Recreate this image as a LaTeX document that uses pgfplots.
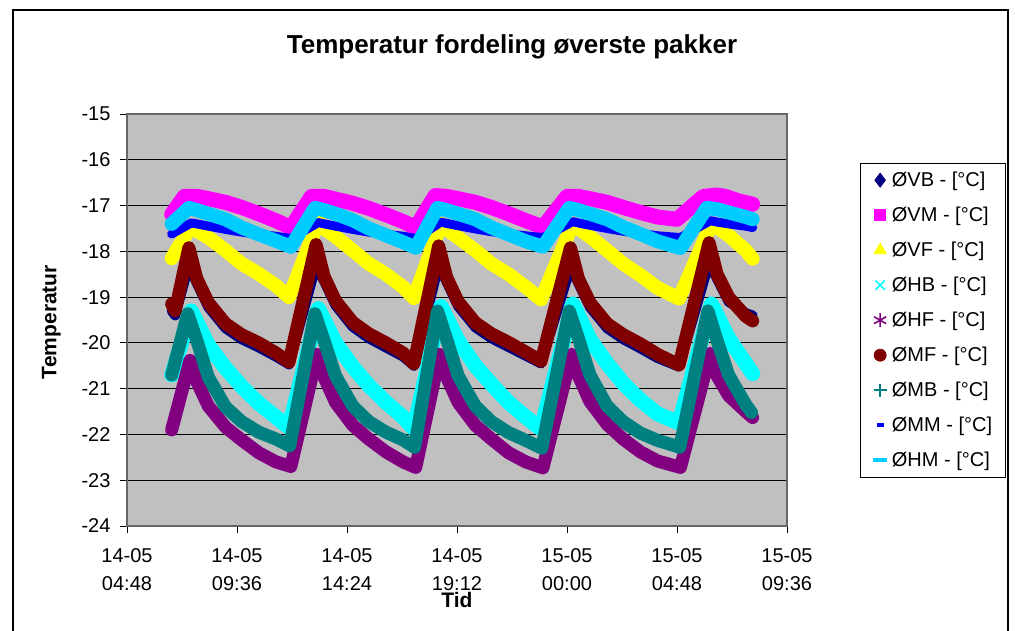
\documentclass[border=0pt]{standalone}
\usepackage{pgfplots}
\pgfplotsset{compat=1.18}
\usepackage{fontspec}
\setmainfont{Liberation Sans}
\definecolor{cVB}{HTML}{000080}
\definecolor{cVM}{HTML}{FF00FF}
\definecolor{cVF}{HTML}{FFFF00}
\definecolor{cHB}{HTML}{00FFFF}
\definecolor{cHF}{HTML}{800080}
\definecolor{cMF}{HTML}{800000}
\definecolor{cMB}{HTML}{008080}
\definecolor{cMM}{HTML}{0000FF}
\definecolor{cHM}{HTML}{00CCFF}
\definecolor{plotbg}{HTML}{C0C0C0}
\begin{document}
\begin{tikzpicture}
\path[use as bounding box] (0pt,0pt) rectangle (1015pt,630pt);
\fill[white] (0pt,0pt) rectangle (1015pt,630pt);
\draw[line width=1.8pt] (13pt,-5pt) -- (13pt,620pt) -- (1008pt,620pt) -- (1008pt,-5pt);
\node[anchor=base, font=\fontsize{26}{30}\selectfont\bfseries] at (512pt,576pt) {Temperatur fordeling øverste pakker};
\begin{axis}[
  at={(127pt,104pt)}, anchor=south west,
  width=660pt, height=412pt, scale only axis,
  xmin=4.8, xmax=33.6, ymin=-24, ymax=-15,
  xtick={4.8,9.6,14.4,19.2,24,28.8,33.6},
  xticklabels={{14-05\\04:48},{14-05\\09:36},{14-05\\14:24},{14-05\\19:12},{15-05\\00:00},{15-05\\04:48},{15-05\\09:36}},
  ytick={-24,-23,-22,-21,-20,-19,-18,-17,-16,-15},
  yticklabels={-24,-23,-22,-21,-20,-19,-18,-17,-16,-15},
  ticklabel style={font=\fontsize{20}{28}\selectfont},
  xticklabel style={align=center, yshift=-12pt},
  yticklabel style={xshift=-6pt},
  tick align=outside, tick pos=left, major tick length=7pt,
  tick style={black, line width=1pt},
  axis line style={draw=black!60, line width=1.3pt},
  axis background/.style={fill=plotbg},
  ymajorgrids, major grid style={black, line width=0.9pt},
  xlabel={Tid}, ylabel={Temperatur},
  xlabel style={font=\fontsize{21}{25}\selectfont\bfseries, at={(axis description cs:0.5,-0.197)}, anchor=base},
  ylabel style={font=\fontsize{21}{25}\selectfont\bfseries, at={(axis description cs:-0.107,0.495)}, anchor=base},
  legend style={at={(axis description cs:1.1106,0.881)}, anchor=north west,
    draw=black, line width=0.8pt, font=\fontsize{20}{24}\selectfont,
    inner xsep=12pt, inner ysep=6pt, row sep=13.5pt,
    nodes={text height=16.5pt, text depth=3pt, inner sep=1pt},
    /tikz/every odd column/.append style={column sep=3pt}},
  legend cell align=left,
  legend image code/.code={\path (0pt,0pt) (12pt,0pt); \draw[#1, mark repeat=1] plot coordinates {(6pt,0pt)};},
]
\addlegendimage{only marks, mark=diamond*, mark size=7pt, color=cVB}
\addlegendentry{ØVB - [°C]}
\addlegendimage{only marks, mark=square*, mark size=5.5pt, color=cVM}
\addlegendentry{ØVM - [°C]}
\addlegendimage{only marks, mark=triangle*, mark size=7pt, color=cVF}
\addlegendentry{ØVF - [°C]}
\addlegendimage{only marks, mark=x, mark size=6.5pt, line width=1.6pt, color=cHB}
\addlegendentry{ØHB - [°C]}
\addlegendimage{only marks, mark=asterisk, mark size=7pt, line width=1.6pt, color=cHF}
\addlegendentry{ØHF - [°C]}
\addlegendimage{only marks, mark=*, mark size=6pt, color=cMF}
\addlegendentry{ØMF - [°C]}
\addlegendimage{only marks, mark=+, mark size=6.5pt, line width=1.6pt, color=cMB}
\addlegendentry{ØMB - [°C]}
\addlegendimage{only marks, mark=-, mark size=3.5pt, line width=3.5pt, color=cMM}
\addlegendentry{ØMM - [°C]}
\addlegendimage{only marks, mark=-, mark size=7pt, line width=3.5pt, color=cHM}
\addlegendentry{ØHM - [°C]}

% VB
\addplot[forget plot, draw=cVB, line width=10pt, line join=round, line cap=round] coordinates {
(6.75,-19.3) (6.9,-19.4) (7.5,-18.3) (7.85,-18.7) (8.35,-19.22) (9.1,-19.68) (9.8,-19.92) (10.55,-20.1) (11.3,-20.3) (11.87,-20.47)
(13.05,-18.3) (13.4,-18.65) (13.9,-19.18) (14.65,-19.65) (15.35,-19.9) (16.1,-20.1) (16.85,-20.3) (17.32,-20.5)
(18.4,-18.3) (18.75,-18.67) (19.25,-19.2) (20.0,-19.66) (20.7,-19.9) (21.45,-20.09) (22.2,-20.28) (22.87,-20.45)
(24.15,-18.35) (24.5,-18.7) (25.0,-19.22) (25.75,-19.68) (26.45,-19.92) (27.2,-20.12) (27.95,-20.33) (28.89,-20.52)
(30.2,-18.25) (30.55,-18.6) (31.05,-19.1) (31.8,-19.35) (32.1,-19.4)};
% VM
\addplot[forget plot, draw=cVM, line width=15pt, line join=round, line cap=round] coordinates {
(6.75,-17.19) (7.3,-16.8) (7.85,-16.8) (8.35,-16.85) (9.1,-16.93) (9.8,-17.04) (10.55,-17.18) (11.3,-17.33) (11.95,-17.48)
(12.85,-16.8) (13.4,-16.8) (13.9,-16.86) (14.65,-16.95) (15.35,-17.06) (16.1,-17.2) (16.85,-17.35) (17.4,-17.48)
(18.25,-16.78) (18.75,-16.8) (19.25,-16.85) (20.0,-16.93) (20.7,-17.04) (21.45,-17.18) (22.2,-17.33) (22.95,-17.47)
(24.0,-16.8) (24.5,-16.8) (25.0,-16.85) (25.75,-16.93) (26.45,-17.04) (27.2,-17.15) (27.95,-17.25) (28.8,-17.3)
(29.95,-16.8) (30.55,-16.77) (30.9,-16.8) (31.5,-16.9) (32.1,-16.97)};
% VF
\addplot[forget plot, draw=cVF, line width=14pt, line join=round, line cap=round] coordinates {
(6.75,-18.15) (7.6,-17.45) (7.85,-17.55) (8.35,-17.7) (9.1,-17.98) (9.8,-18.27) (10.55,-18.49) (11.3,-18.75) (11.87,-19.0)
(13.15,-17.35) (13.4,-17.5) (13.9,-17.68) (14.65,-17.98) (15.35,-18.27) (16.1,-18.5) (16.85,-18.78) (17.32,-19.02)
(18.5,-17.4) (18.75,-17.52) (19.25,-17.7) (20.0,-17.98) (20.7,-18.27) (21.45,-18.5) (22.2,-18.78) (22.87,-19.05)
(24.25,-17.4) (24.5,-17.5) (25.0,-17.68) (25.75,-17.98) (26.45,-18.27) (27.2,-18.52) (27.95,-18.8) (28.89,-19.03)
(30.3,-17.4) (30.55,-17.48) (31.05,-17.65) (31.8,-17.98) (32.1,-18.16)};
% HB
\addplot[forget plot, draw=cHB, line width=15pt, line join=round, line cap=round] coordinates {
(6.75,-20.7) (7.6,-19.3) (7.85,-19.55) (8.35,-20.05) (9.1,-20.55) (9.8,-20.95) (10.55,-21.32) (11.3,-21.62) (11.87,-21.85)
(13.15,-19.25) (13.4,-19.5) (13.9,-20.0) (14.65,-20.52) (15.35,-20.93) (16.1,-21.3) (16.85,-21.62) (17.32,-21.88)
(18.5,-19.2) (18.75,-19.45) (19.25,-19.95) (20.0,-20.5) (20.7,-20.9) (21.45,-21.3) (22.2,-21.62) (22.87,-21.88)
(24.25,-19.15) (24.5,-19.4) (25.0,-19.92) (25.75,-20.45) (26.45,-20.88) (27.2,-21.25) (27.95,-21.55) (28.89,-21.75)
(30.3,-19.15) (30.55,-19.4) (31.05,-19.9) (31.8,-20.45) (32.1,-20.67)};
% HF
\addplot[forget plot, draw=cHF, line width=13pt, line join=round, line cap=round] coordinates {
(6.75,-21.9) (7.55,-20.38) (7.85,-20.85) (8.35,-21.38) (9.1,-21.84) (9.8,-22.12) (10.55,-22.4) (11.3,-22.6) (11.95,-22.7)
(13.1,-20.25) (13.4,-20.75) (13.9,-21.3) (14.65,-21.8) (15.35,-22.1) (16.1,-22.38) (16.85,-22.6) (17.4,-22.72)
(18.45,-20.25) (18.75,-20.75) (19.25,-21.3) (20.0,-21.8) (20.7,-22.1) (21.45,-22.4) (22.2,-22.6) (22.95,-22.73)
(24.2,-20.25) (24.5,-20.72) (25.0,-21.28) (25.75,-21.78) (26.45,-22.1) (27.2,-22.38) (27.95,-22.58) (28.95,-22.72)
(30.25,-20.23) (30.55,-20.72) (31.05,-21.15) (31.8,-21.5) (32.1,-21.63)};
% MF
\addplot[forget plot, draw=cMF, line width=13pt, line join=round, line cap=round] coordinates {
(6.75,-19.15) (6.9,-19.3) (7.5,-17.92) (7.85,-18.6) (8.35,-19.12) (9.1,-19.58) (9.8,-19.82) (10.55,-20.0) (11.3,-20.22) (11.87,-20.42)
(13.05,-17.85) (13.4,-18.55) (13.9,-19.08) (14.65,-19.55) (15.35,-19.8) (16.1,-20.0) (16.85,-20.22) (17.32,-20.45)
(18.4,-17.88) (18.75,-18.57) (19.25,-19.1) (20.0,-19.56) (20.7,-19.8) (21.45,-19.99) (22.2,-20.2) (22.87,-20.4)
(24.15,-17.92) (24.5,-18.6) (25.0,-19.12) (25.75,-19.58) (26.45,-19.82) (27.2,-20.02) (27.95,-20.25) (28.89,-20.48)
(30.2,-17.81) (30.55,-18.5) (31.05,-19.0) (31.8,-19.42) (32.1,-19.52)};
% MB
\addplot[forget plot, draw=cMB, line width=13pt, line join=round, line cap=round] coordinates {
(6.75,-20.7) (7.45,-19.36) (7.85,-19.95) (8.35,-20.75) (9.1,-21.4) (9.8,-21.72) (10.55,-21.95) (11.3,-22.1) (11.9,-22.25)
(13.0,-19.36) (13.4,-19.95) (13.9,-20.72) (14.65,-21.38) (15.35,-21.72) (16.1,-21.95) (16.85,-22.12) (17.35,-22.28)
(18.35,-19.3) (18.75,-19.92) (19.25,-20.72) (20.0,-21.38) (20.7,-21.72) (21.45,-21.96) (22.2,-22.13) (22.9,-22.3)
(24.1,-19.3) (24.5,-19.9) (25.0,-20.7) (25.75,-21.38) (26.45,-21.72) (27.2,-21.97) (27.95,-22.13) (28.92,-22.28)
(30.15,-19.3) (30.55,-19.95) (31.05,-20.7) (31.8,-21.35) (32.05,-21.52)};
% MM
\addplot[forget plot, draw=cMM, line width=9pt, line join=round, line cap=round] coordinates {
(6.75,-17.62) (7.6,-17.38) (7.85,-17.4) (8.35,-17.45) (9.1,-17.52) (9.8,-17.58) (10.55,-17.63) (11.3,-17.67) (11.95,-17.72)
(13.15,-17.37) (13.4,-17.4) (13.9,-17.45) (14.65,-17.52) (15.35,-17.58) (16.1,-17.63) (16.85,-17.67) (17.4,-17.72)
(18.5,-17.36) (18.75,-17.39) (19.25,-17.44) (20.0,-17.51) (20.7,-17.57) (21.45,-17.62) (22.2,-17.66) (22.95,-17.7)
(24.25,-17.35) (24.5,-17.38) (25.0,-17.43) (25.75,-17.5) (26.45,-17.56) (27.2,-17.61) (27.95,-17.66) (28.95,-17.7)
(30.25,-17.33) (30.55,-17.36) (31.05,-17.4) (31.8,-17.45) (32.1,-17.48)};
% HM
\addplot[forget plot, draw=cHM, line width=14pt, line join=round, line cap=round] coordinates {
(6.75,-17.4) (7.5,-17.05) (7.85,-17.1) (8.35,-17.18) (9.1,-17.3) (9.8,-17.48) (10.55,-17.63) (11.3,-17.77) (11.95,-17.9)
(13.0,-17.05) (13.4,-17.1) (13.9,-17.18) (14.65,-17.32) (15.35,-17.5) (16.1,-17.65) (16.85,-17.8) (17.4,-17.92)
(18.35,-17.05) (18.75,-17.1) (19.25,-17.18) (20.0,-17.3) (20.7,-17.48) (21.45,-17.63) (22.2,-17.78) (22.95,-17.9)
(24.1,-17.05) (24.5,-17.1) (25.0,-17.18) (25.75,-17.3) (26.45,-17.47) (27.2,-17.62) (27.95,-17.78) (28.95,-17.93)
(30.1,-17.05) (30.55,-17.08) (31.05,-17.15) (31.8,-17.25) (32.1,-17.3)};
\end{axis}
\end{tikzpicture}
\end{document}
